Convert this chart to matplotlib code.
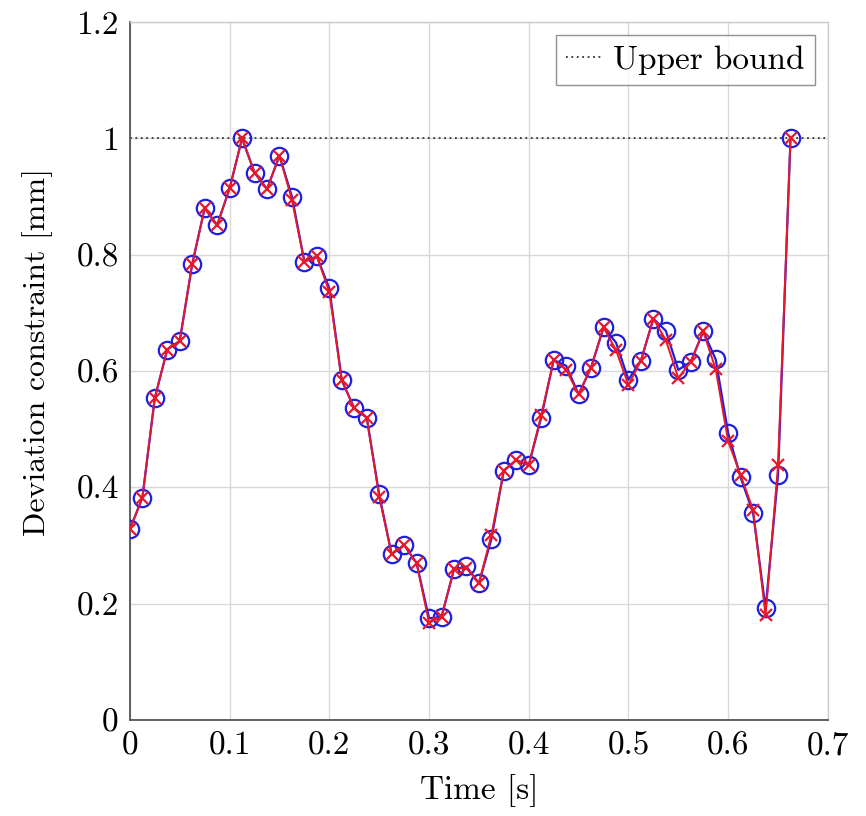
import matplotlib
matplotlib.use("Agg")
import matplotlib.pyplot as plt

# Sample times [s]
time = [0.0, 0.0125, 0.025, 0.0375, 0.05, 0.0625, 0.075, 0.0875, 0.1, 0.1125,
        0.125, 0.1375, 0.15, 0.1625, 0.175, 0.1875, 0.2, 0.2125, 0.225, 0.2375,
        0.25, 0.2625, 0.275, 0.2875, 0.3, 0.3125, 0.325, 0.3375, 0.35, 0.3625,
        0.375, 0.3875, 0.4, 0.4125, 0.425, 0.4375, 0.45, 0.4625, 0.475, 0.4875,
        0.5, 0.5125, 0.525, 0.5375, 0.55, 0.5625, 0.575, 0.5875, 0.6, 0.6125,
        0.625, 0.6375, 0.65, 0.6625]

# Deviation constraint, first evaluation (blue circles) [mm]
dev_circle = [0.328, 0.382, 0.554, 0.637, 0.652, 0.784, 0.880, 0.851, 0.914, 1.000,
              0.941, 0.913, 0.970, 0.900, 0.788, 0.797, 0.742, 0.584, 0.536, 0.520,
              0.388, 0.285, 0.301, 0.270, 0.175, 0.177, 0.259, 0.264, 0.235, 0.311,
              0.429, 0.447, 0.438, 0.520, 0.619, 0.609, 0.560, 0.606, 0.675, 0.649,
              0.585, 0.618, 0.690, 0.669, 0.602, 0.616, 0.668, 0.620, 0.493, 0.417,
              0.356, 0.192, 0.421, 1.000]

# Deviation constraint, second evaluation (red crosses) [mm]
dev_cross = [0.328, 0.382, 0.554, 0.637, 0.652, 0.784, 0.880, 0.851, 0.914, 1.000,
             0.941, 0.913, 0.970, 0.894, 0.788, 0.797, 0.736, 0.584, 0.536, 0.520,
             0.384, 0.285, 0.301, 0.270, 0.167, 0.178, 0.259, 0.262, 0.235, 0.318,
             0.429, 0.447, 0.438, 0.524, 0.619, 0.602, 0.560, 0.606, 0.675, 0.636,
             0.576, 0.618, 0.690, 0.653, 0.588, 0.616, 0.668, 0.603, 0.479, 0.421,
             0.361, 0.180, 0.438, 1.000]

upper_bound = 1.0

x_ticks = [0, 0.1, 0.2, 0.3, 0.4, 0.5, 0.6, 0.7]
x_tick_labels = ["0", "0.1", "0.2", "0.3", "0.4", "0.5", "0.6", "0.7"]
y_ticks = [0, 0.2, 0.4, 0.6, 0.8, 1.0, 1.2]
y_tick_labels = ["0", "0.2", "0.4", "0.6", "0.8", "1", "1.2"]

plt.rcParams["font.family"] = ["serif"]
plt.rcParams["font.serif"] = ["cmr10", "DejaVu Serif"]
plt.rcParams["mathtext.fontset"] = "cm"
plt.rcParams["axes.formatter.use_mathtext"] = True

fig = plt.figure(figsize=(8.66, 8.16), dpi=100)
ax = fig.add_axes([0.150, 0.1176, 0.806, 0.8554])

ax.grid(True, color="#d9d9d9", linewidth=1.0, zorder=0)
ax.set_axisbelow(True)

ub_line, = ax.plot([0, 0.7], [upper_bound, upper_bound], linestyle=(0, (1, 2)),
                   color="#333333", linewidth=1.3, zorder=2, label="Upper bound")

ax.plot(time, dev_circle, color="#1f1fe0", linewidth=1.6, marker="o",
        markersize=12.5, markerfacecolor="none", markeredgecolor="#1f1fe0",
        markeredgewidth=1.6, zorder=3)
ax.plot(time, dev_cross, color="#e8182a", linewidth=1.4, marker="x",
        markersize=9, markeredgecolor="#e8182a", markeredgewidth=1.6, zorder=4)

ax.set_xlim(0, 0.7)
ax.set_ylim(0, 1.2)
ax.set_xticks(x_ticks)
ax.set_xticklabels(x_tick_labels)
ax.set_yticks(y_ticks)
ax.set_yticklabels(y_tick_labels)
ax.tick_params(axis="both", length=0, labelsize=24, pad=8)

for side in ("top", "right"):
    ax.spines[side].set_color("#cccccc")
    ax.spines[side].set_linewidth(1.0)
for side in ("left", "bottom"):
    ax.spines[side].set_color("#555555")
    ax.spines[side].set_linewidth(1.3)

ax.set_xlabel("Time [s]", fontsize=24, labelpad=10)
ax.set_ylabel("Deviation constraint [mm]", fontsize=23)
ax.yaxis.set_label_coords(-0.11, 0.527)

leg = ax.legend(handles=[ub_line], loc="upper right", fontsize=24,
                frameon=True, fancybox=False, handlelength=1.1,
                handletextpad=0.3, borderpad=0.3, borderaxespad=0.4)
leg.get_frame().set_edgecolor("#777777")
leg.get_frame().set_linewidth(1.0)

fig.savefig("out.png", dpi=100)
